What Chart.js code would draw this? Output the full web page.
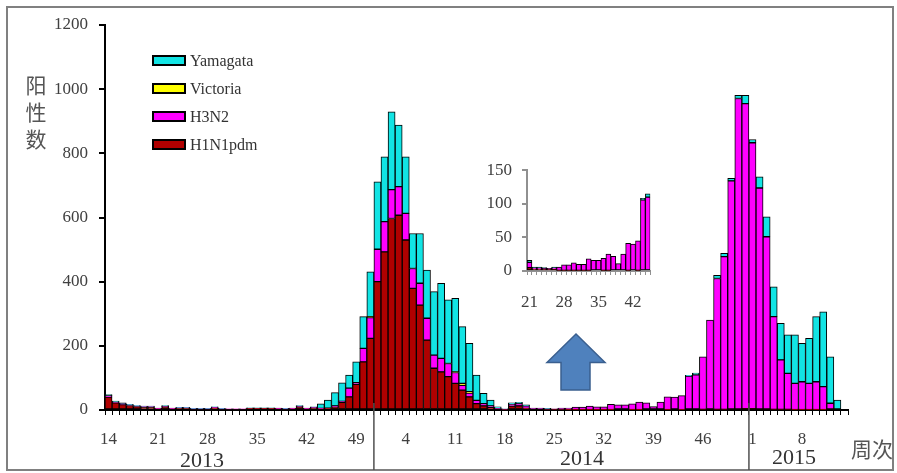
<!DOCTYPE html>
<html><head><meta charset="utf-8">
<script src="https://cdn.jsdelivr.net/npm/chart.js@4/dist/chart.umd.min.js"></script>
<style>
html,body{margin:0;padding:0;background:#fff;}
#wrap{position:relative;width:897px;height:473px;overflow:hidden;background:#fff;}
#frame{position:absolute;left:6px;top:6px;width:884px;height:461px;border:2px solid #808080;}
#main{position:absolute;left:0;top:0;}
#inset{position:absolute;left:470px;top:150px;}
#arrow{position:absolute;left:0;top:0;}
</style></head><body>
<div id="wrap">
<div id="frame"></div>
<canvas id="main" width="897" height="473"></canvas>
<canvas id="inset" width="195" height="162"></canvas>
<svg id="arrow" width="897" height="473"><polygon points="576,334 605,362.5 590,362.5 590,390 561,390 561,362.5 547,362.5" fill="#4F81BD" stroke="#3A5F8F" stroke-width="1.5"/></svg>
</div>
<script>
// ---- Category (week) labels: 2013 wk14-52, 2014 wk1-52, 2015 wk1-14 ----
const weekLabels = [
 '14','15','16','17','18','19','20','21','22','23','24','25','26','27','28','29','30','31','32','33','34','35','36','37','38','39','40','41','42','43','44','45','46','47','48','49','50','51','52',
 '1','2','3','4','5','6','7','8','9','10','11','12','13','14','15','16','17','18','19','20','21','22','23','24','25','26','27','28','29','30','31','32','33','34','35','36','37','38','39','40','41','42','43','44','45','46','47','48','49','50','51','52',
 '1','2','3','4','5','6','7','8','9','10','11','12','13','14'
];
const yearLabels = ['2013','2014','2015'];
const seriesNames = ['H1N1pdm','H3N2','Victoria','Yamagata'];
const seriesColors = ['#B00000','#FF00FF','#FFFF00','#12E4E4'];

// ---- Series values (positives per week) ----
const h1n1pdm = [
 40,22,17,14,11,9,9,4,10,4,6,6,3,3,3,7,3,3,3,3,5,5,5,5,4,3,4,10,4,6,
 4,5,10,24,41,80,150,223,400,
 493,597,607,530,379,327,218,130,119,104,83,62,41,
 20,13,7,3,2,12,13,5,
 3,3,2,2,2,1,1,1,1,1,1,1,0,0,1,1,0,0,0,1,0,1,0,0,
 2,3,2,2,3,3,4,
 4,3,3,2,2,2,1,1,1,1,1,0,0,0
];
const h3n2 = [
 5,3,3,2,2,2,2,1,2,1,1,1,1,1,1,2,1,1,1,1,1,1,1,1,1,1,1,2,1,2,
 1,1,3,3,27,5,42,65,101,
 94,90,89,83,62,68,68,41,42,41,34,15,12,
 10,7,6,2,1,6,7,8,
 2,2,2,2,3,5,8,8,11,9,9,17,16,16,18,24,22,11,25,40,40,44,106,110,
 164,277,408,476,711,968,951,
 829,689,537,289,154,112,82,87,82,87,72,21,0,0
];
const victoria = [
 0,0,0,0,0,0,0,0,0,0,0,0,0,0,0,0,0,0,0,0,0,0,0,0,0,0,0,0,0,0,
 0,0,0,0,0,0,0,3,0,
 0,0,0,0,0,0,0,0,0,0,2,6,4,
 0,0,0,0,0,0,0,0,
 0,0,0,0,0,0,0,0,0,0,0,0,0,0,0,0,0,0,0,0,0,0,0,0,
 0,0,0,0,0,0,0,
 0,0,0,0,0,0,0,0,0,0,0,0,0,0
];
const yamagata = [
 3,3,2,2,1,1,1,1,2,1,1,1,1,1,1,1,1,0,0,0,1,1,1,1,1,1,1,2,1,2,
 14,25,41,58,41,65,99,140,210,
 202,242,192,176,109,155,150,198,234,198,229,177,151,
 79,32,18,5,1,4,4,3,
 1,1,1,0,1,0,0,0,0,0,0,0,0,0,0,0,0,0,0,0,0,0,2,5,
 0,0,10,10,8,10,26,
 10,35,62,93,114,120,151,120,140,203,233,145,31,0
];
const yTicksMain = [0,200,400,600,800,1000,1200];
const yTicksInset = [0,50,100,150];
// inset shows 2014 weeks 21-45
const insetStart = 59, insetEnd = 84;
// category index where a new-year divider is drawn (as in the original)
const yearBreaks = [38, 91];

const serif = '"Liberation Serif", "Times New Roman", serif';
const cjk = '"Noto Sans CJK SC", sans-serif';
const allSeries = [h1n1pdm, h3n2, victoria, yamagata];

function makeDatasets(from, to){
  return allSeries.map((arr,k)=>({
    label: seriesNames[k],
    data: arr.slice(from,to),
    backgroundColor: seriesColors[k],
    borderColor: '#000',
    borderWidth: 1,
    borderSkipped: false,
    barPercentage: 1,
    categoryPercentage: 1
  }));
}

const deco = {
  id:'deco',
  afterDraw(chart){
    const ctx = chart.ctx, xs = chart.scales.x;
    ctx.save();
    // year dividers
    ctx.strokeStyle = '#505050'; ctx.lineWidth = 1.5;
    yearBreaks.forEach(b=>{
      const px = (xs.getPixelForValue(b-1)+xs.getPixelForValue(b))/2;
      ctx.beginPath(); ctx.moveTo(px,403); ctx.lineTo(px,470); ctx.stroke();
    });
    // year labels
    ctx.fillStyle = '#333'; ctx.font = '22px '+serif;
    ctx.textAlign = 'center'; ctx.textBaseline = 'middle';
    const yearPos = [[202,461],[582,459],[794,458]];
    yearLabels.forEach((t,i)=>ctx.fillText(t, yearPos[i][0], yearPos[i][1]));
    // axis titles
    ctx.fillStyle = '#555'; ctx.font = '21px '+cjk;
    ['阳','性','数'].forEach((c,i)=>ctx.fillText(c, 36, 85+i*27));
    ctx.fillText('周次', 872, 449);
    // legend (reverse stacking order)
    ctx.textAlign = 'left';
    ctx.font = '16px '+serif;
    for(let k=3;k>=0;k--){
      const yc = 60.5 + (3-k)*28;
      ctx.fillStyle = seriesColors[k];
      ctx.fillRect(153, yc-4.5, 32, 9);
      ctx.strokeStyle = '#000'; ctx.lineWidth = 2;
      ctx.strokeRect(153, yc-4.5, 32, 9);
      ctx.fillStyle = '#333';
      ctx.fillText(seriesNames[k], 190, yc+1);
    }
    ctx.restore();
  }
};

new Chart(document.getElementById('main'), {
  type:'bar',
  data:{ labels: weekLabels, datasets: makeDatasets(0, weekLabels.length) },
  options:{
    responsive:false, animation:false,
    layout:{padding:{left:0,right:49,top:25,bottom:0}},
    plugins:{legend:{display:false}, tooltip:{enabled:false}},
    scales:{
      x:{
        stacked:true,
        grid:{display:true, drawOnChartArea:false, tickLength:5, color:'#000', lineWidth:1, offset:true},
        border:{display:true, color:'#000', width:2},
        ticks:{autoSkip:false, maxRotation:0, minRotation:0, padding:14, color:'#404040',
               font:{family:serif, size:17},
               callback:(v,i)=> i%7===0 ? weekLabels[i] : ''},
        afterFit:s=>{s.height=63;}
      },
      y:{
        stacked:true, min:0, max:1200,
        afterBuildTicks:s=>{s.ticks = yTicksMain.map(v=>({value:v}));},
        grid:{drawOnChartArea:false, tickLength:6, color:'#000', lineWidth:2},
        border:{display:true, color:'#000', width:2},
        ticks:{padding:11, color:'#404040', font:{family:serif, size:17}, callback:v=>String(v)},
        afterFit:s=>{s.width=105;}
      }
    }
  },
  plugins:[deco]
});

new Chart(document.getElementById('inset'), {
  type:'bar',
  data:{ labels: weekLabels.slice(insetStart, insetEnd), datasets: makeDatasets(insetStart, insetEnd) },
  options:{
    responsive:false, animation:false,
    layout:{padding:{left:0,right:8,top:15,bottom:0}},
    plugins:{legend:{display:false}, tooltip:{enabled:false}},
    scales:{
      x:{
        stacked:true,
        grid:{display:true, drawOnChartArea:false, tickLength:4, color:'#909090', lineWidth:1, offset:true},
        border:{display:true, color:'#909090', width:2},
        ticks:{autoSkip:false, maxRotation:0, minRotation:0, padding:17, color:'#404040',
               font:{family:serif, size:17},
               callback:function(v,i){ return i%7===0 ? this.getLabelForValue(v) : ''; }},
        afterFit:s=>{s.height=41;}
      },
      y:{
        stacked:true, min:0, max:150,
        afterBuildTicks:s=>{s.ticks = yTicksInset.map(v=>({value:v}));},
        grid:{drawOnChartArea:false, tickLength:5, color:'#909090', lineWidth:2},
        border:{display:true, color:'#909090', width:2},
        ticks:{padding:10, color:'#404040', font:{family:serif, size:17}, callback:v=>String(v)},
        afterFit:s=>{s.width=57;}
      }
    }
  }
});
</script>
</body></html>
